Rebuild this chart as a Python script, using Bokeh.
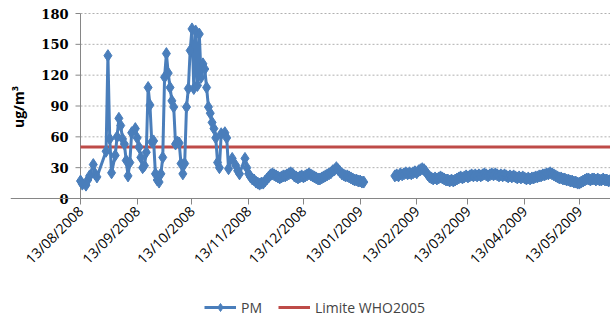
import numpy as np
import pandas as pd
from math import pi
from bokeh.plotting import figure
from bokeh.models import (FixedTicker, DatetimeTickFormatter, Legend, LegendItem, Range1d)
from bokeh.core.properties import value
from bokeh.embed import file_html
from bokeh.resources import INLINE

# ---------------- data ----------------
start_date = "2008-08-13"

# early, irregular sampling (days after 13/08/2008)
early_days = [0, 1, 3, 4, 5, 7, 8, 9,
              14, 15, 16, 17, 19, 20, 21, 22, 23, 24, 25, 26, 27, 28,
              30, 31, 32, 33, 34, 35, 36, 37, 38, 39, 40, 41, 42, 43, 44, 45,
              46, 47, 48, 49, 50, 51, 52, 53, 54, 55, 56, 57, 58, 59, 60, 61,
              62, 63, 64, 65, 66, 67, 68, 69, 70, 71, 72, 73, 74, 75, 76, 77,
              79, 80, 81, 83, 85, 86, 87, 90, 91, 92]
early_pm = [17, 14, 13, 18, 22, 33, 24, 21,
            46, 139, 58, 25, 42, 60, 78, 71, 58, 53, 37, 22, 35, 64,
            68, 59, 50, 40, 30, 32, 45, 108, 91, 55, 56, 24, 18, 16, 24, 40,
            118, 141, 122, 108, 95, 89, 53, 55, 54, 34, 24, 34, 89, 107, 144, 165,
            107, 163, 110, 160, 118, 131, 126, 108, 89, 83, 74, 68, 59, 35, 30, 63,
            64, 59, 29, 39, 32, 27, 24, 39, 30, 24]

# daily values, day 93 .. 155
winter_start = 93
winter_pm = [21, 19, 18, 16, 15, 14, 15, 15, 17, 19,
             21, 23, 24, 23, 22, 21, 20, 21, 22, 22,
             23, 24, 25, 24, 22, 21, 20, 21, 22, 21,
             22, 23, 24, 23, 22, 21, 20, 19, 19, 20,
             21, 22, 23, 24, 25, 27, 28, 30, 28, 26,
             24, 23, 22, 22, 21, 20, 19, 18, 18, 17,
             17, 16, 16]

# daily values, day 172 .. 290 (after the data gap)
spring_start = 172
spring_pm = [22, 23, 22, 24, 23, 24, 25, 24, 25, 24,
             25, 26, 25, 27, 28, 29, 28, 26, 23, 21,
             20, 19, 20, 19, 20, 21, 20, 19, 18, 18,
             17, 18, 17, 18, 19, 20, 21, 20, 21, 22,
             21, 22, 23, 22, 23, 22, 23, 22, 23, 24,
             23, 22, 23, 24, 23, 24, 23, 22, 23, 22,
             23, 22, 21, 22, 21, 22, 21, 20, 21, 20,
             21, 20, 19, 20, 19, 20, 20, 21, 21, 22,
             22, 23, 23, 24, 24, 25, 24, 23, 22, 21,
             20, 20, 19, 19, 18, 18, 17, 17, 16, 16,
             15, 15, 16, 17, 18, 19, 19, 18, 19, 19,
             18, 19, 18, 18, 19, 18, 18, 17, 18]

limit_value = 50
end_day = 290

tick_dates = ["2008-08-13", "2008-09-13", "2008-10-13", "2008-11-13", "2008-12-13",
              "2009-01-13", "2009-02-13", "2009-03-13", "2009-04-13", "2009-05-13"]
y_ticks = [0, 30, 60, 90, 120, 150, 180]
y_title = "ug/m³"

# ---------------- build series ----------------
winter_days = list(range(winter_start, winter_start + len(winter_pm)))
spring_days = list(range(spring_start, spring_start + len(spring_pm)))
gap_day = winter_days[-1] + 1

all_days = early_days + winter_days + [gap_day] + spring_days
all_pm = early_pm + winter_pm + [np.nan] + spring_pm

t0 = pd.Timestamp(start_date)
x = t0 + pd.to_timedelta(all_days, unit="D")
x_end = t0 + pd.Timedelta(days=end_day)

blue = "#4A7EBB"
red = "#BE4B48"
axis_grey = "#868686"

# ---------------- layout geometry (pixels) ----------------
frame_left = 10          # frame starts near the window's left edge
frame_top = 3            # frame starts near the window's top edge
axis_px = 80             # value axis drawn at this pixel column
top_px = 13              # pixel row of value 180
plot_w = 530             # pixels from value axis to right edge
plot_px = 185            # pixels for 0..180
frame_h = 327 - frame_top
px_per_day = plot_w / end_day
units_per_px = 180 / plot_px
y_max = 180 + (top_px - frame_top) * units_per_px
y_min = y_max - frame_h * units_per_px
x_start = t0 - pd.Timedelta(days=(axis_px - frame_left) / px_per_day)

p = figure(frame_width=610 - frame_left, frame_height=frame_h,
           x_axis_type="datetime", y_axis_location=None,
           output_backend="svg", toolbar_location=None,
           min_border_left=frame_left, min_border_right=0, min_border_top=frame_top,
           min_border_bottom=0,
           x_range=Range1d(x_start, x_end), y_range=Range1d(y_min, y_max))
p.outline_line_color = None
p.background_fill_color = "white"
p.border_fill_color = "white"
p.xgrid.grid_line_color = None
p.ygrid.grid_line_color = None

# dotted horizontal gridlines, from the value axis to the right edge
grid_vals = y_ticks[1:]
p.segment(x0=[t0] * len(grid_vals), y0=grid_vals, x1=[x_end] * len(grid_vals),
          y1=grid_vals, line_color="#B0B0B0", line_dash="2 2", line_width=1)

# value axis: line from 0 to 180 and outward ticks
tick_x0 = t0 - pd.Timedelta(days=5 / px_per_day)
p.segment(x0=[t0], y0=[y_ticks[0]], x1=[t0], y1=[y_ticks[-1]],
          line_color=axis_grey, line_width=1)
p.segment(x0=[tick_x0] * len(y_ticks), y0=y_ticks, x1=[t0] * len(y_ticks), y1=y_ticks,
          line_color=axis_grey, line_width=1)

label_x = t0 - pd.Timedelta(days=12 / px_per_day)
p.text(x=[label_x] * len(y_ticks), y=y_ticks, text=[str(v) for v in y_ticks],
       text_align="right", text_baseline="middle", text_font=value("DejaVu Serif"),
       text_font_style="bold", text_font_size=value("13px"), text_color="#000000")

title_x = t0 - pd.Timedelta(days=62 / px_per_day)
p.text(x=[title_x], y=[89], text=[y_title], angle=pi / 2,
       text_align="center", text_baseline="middle", text_font=value("Open Sans"),
       text_font_style="bold", text_font_size=value("14px"), text_color="#000000")

r_limit = p.line([t0, x_end], [limit_value, limit_value], line_color=red, line_width=3)
r_line = p.line(x, all_pm, line_color=blue, line_width=3)
r_pts = p.scatter(x, all_pm, marker="diamond", size=12, fill_color=blue, line_color=blue)

# x axis drawn at value 0
p.xaxis.fixed_location = 0
p.xaxis.ticker = FixedTicker(ticks=[pd.Timestamp(d).value / 1e6 for d in tick_dates])
fmt = "%d/%m/%Y"
p.xaxis.formatter = DatetimeTickFormatter(days=fmt, months=fmt, years=fmt, hours=fmt,
                                          minutes=fmt, seconds=fmt, milliseconds=fmt,
                                          microseconds=fmt, minsec=fmt, hourmin=fmt)
p.xaxis.major_label_orientation = pi / 4
p.xaxis.major_label_text_font = "Open Sans"
p.xaxis.major_label_text_font_size = "14px"
p.xaxis.major_label_text_color = "#000000"
p.xaxis.major_tick_in = 0
p.xaxis.major_tick_out = 6
p.xaxis.minor_tick_line_color = None
p.xaxis.axis_line_color = axis_grey
p.xaxis.major_tick_line_color = axis_grey
p.xaxis.major_label_standoff = 4

legend = Legend(items=[LegendItem(label="PM", renderers=[r_line, r_pts]),
                       LegendItem(label="Limite WHO2005", renderers=[r_limit])],
                orientation="horizontal", location=(124 + axis_px - frame_left, 10),
                border_line_color=None, background_fill_alpha=0,
                label_text_font="Open Sans", label_text_font_size="14px",
                glyph_width=32, spacing=16, margin=0, padding=2)
p.add_layout(legend)

open("out.html", "w").write(file_html(p, INLINE))
